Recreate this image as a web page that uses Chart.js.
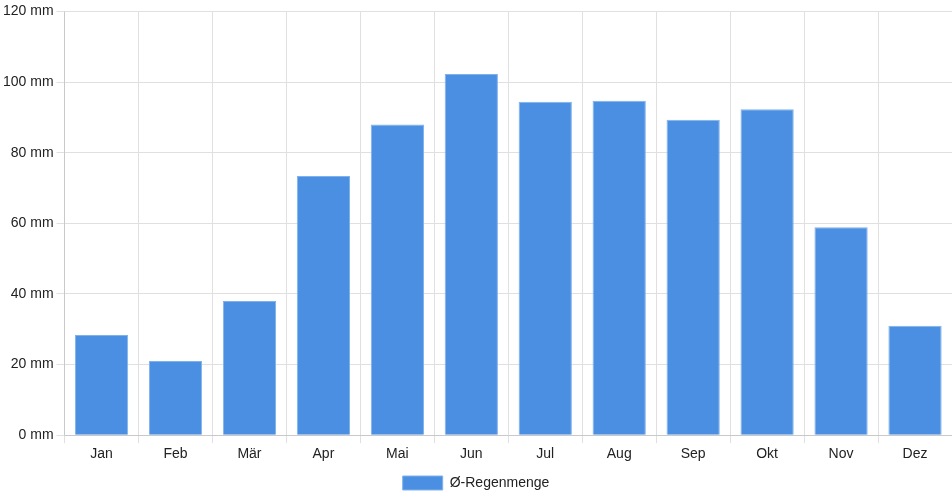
<!DOCTYPE html>
<html>
<head>
<meta charset="utf-8">
<script src="https://cdn.jsdelivr.net/npm/chart.js@4"></script>
<style>
    body { margin: 0; background: #fff; }
    #wrap { width: 952px; height: 500px; }
</style>
</head>
<body>
<div id="wrap"><canvas id="rain"></canvas></div>
<script>
// Monatliche Regenmenge
const months = ['Jan', 'Feb', 'Mär', 'Apr', 'Mai', 'Jun', 'Jul', 'Aug', 'Sep', 'Okt', 'Nov', 'Dez'];
const rainfall = [28.4, 21.0, 38.0, 73.4, 88.0, 102.3, 94.4, 94.7, 89.3, 92.3, 58.9, 31.0];
const seriesLabel = 'Ø-Regenmenge';

Chart.defaults.font.family = '"Liberation Sans", Arial, sans-serif';
Chart.defaults.font.size = 14;
Chart.defaults.color = '#222';

new Chart(document.getElementById('rain').getContext('2d'), {
    type: 'bar',
    data: {
        labels: months,
        datasets: [{
            label: seriesLabel,
            data: rainfall,
            backgroundColor: '#4a8fe2',
            borderColor: '#7fb2ec',
            borderWidth: 1
        }]
    },
    options: {
        responsive: true,
        maintainAspectRatio: false,
        animation: false,
        scales: {
            y: {
                min: 0,
                max: 120,
                ticks: {
                    stepSize: 20,
                    callback: value => value + ' mm'
                },
                grid: { color: '#e0e0e0' }
            },
            x: {
                grid: { color: '#e0e0e0' }
            }
        },
        plugins: {
            legend: {
                position: 'bottom',
                labels: { boxWidth: 40, boxHeight: 14 }
            },
            tooltip: { enabled: false }
        }
    }
});
</script>
</body>
</html>
